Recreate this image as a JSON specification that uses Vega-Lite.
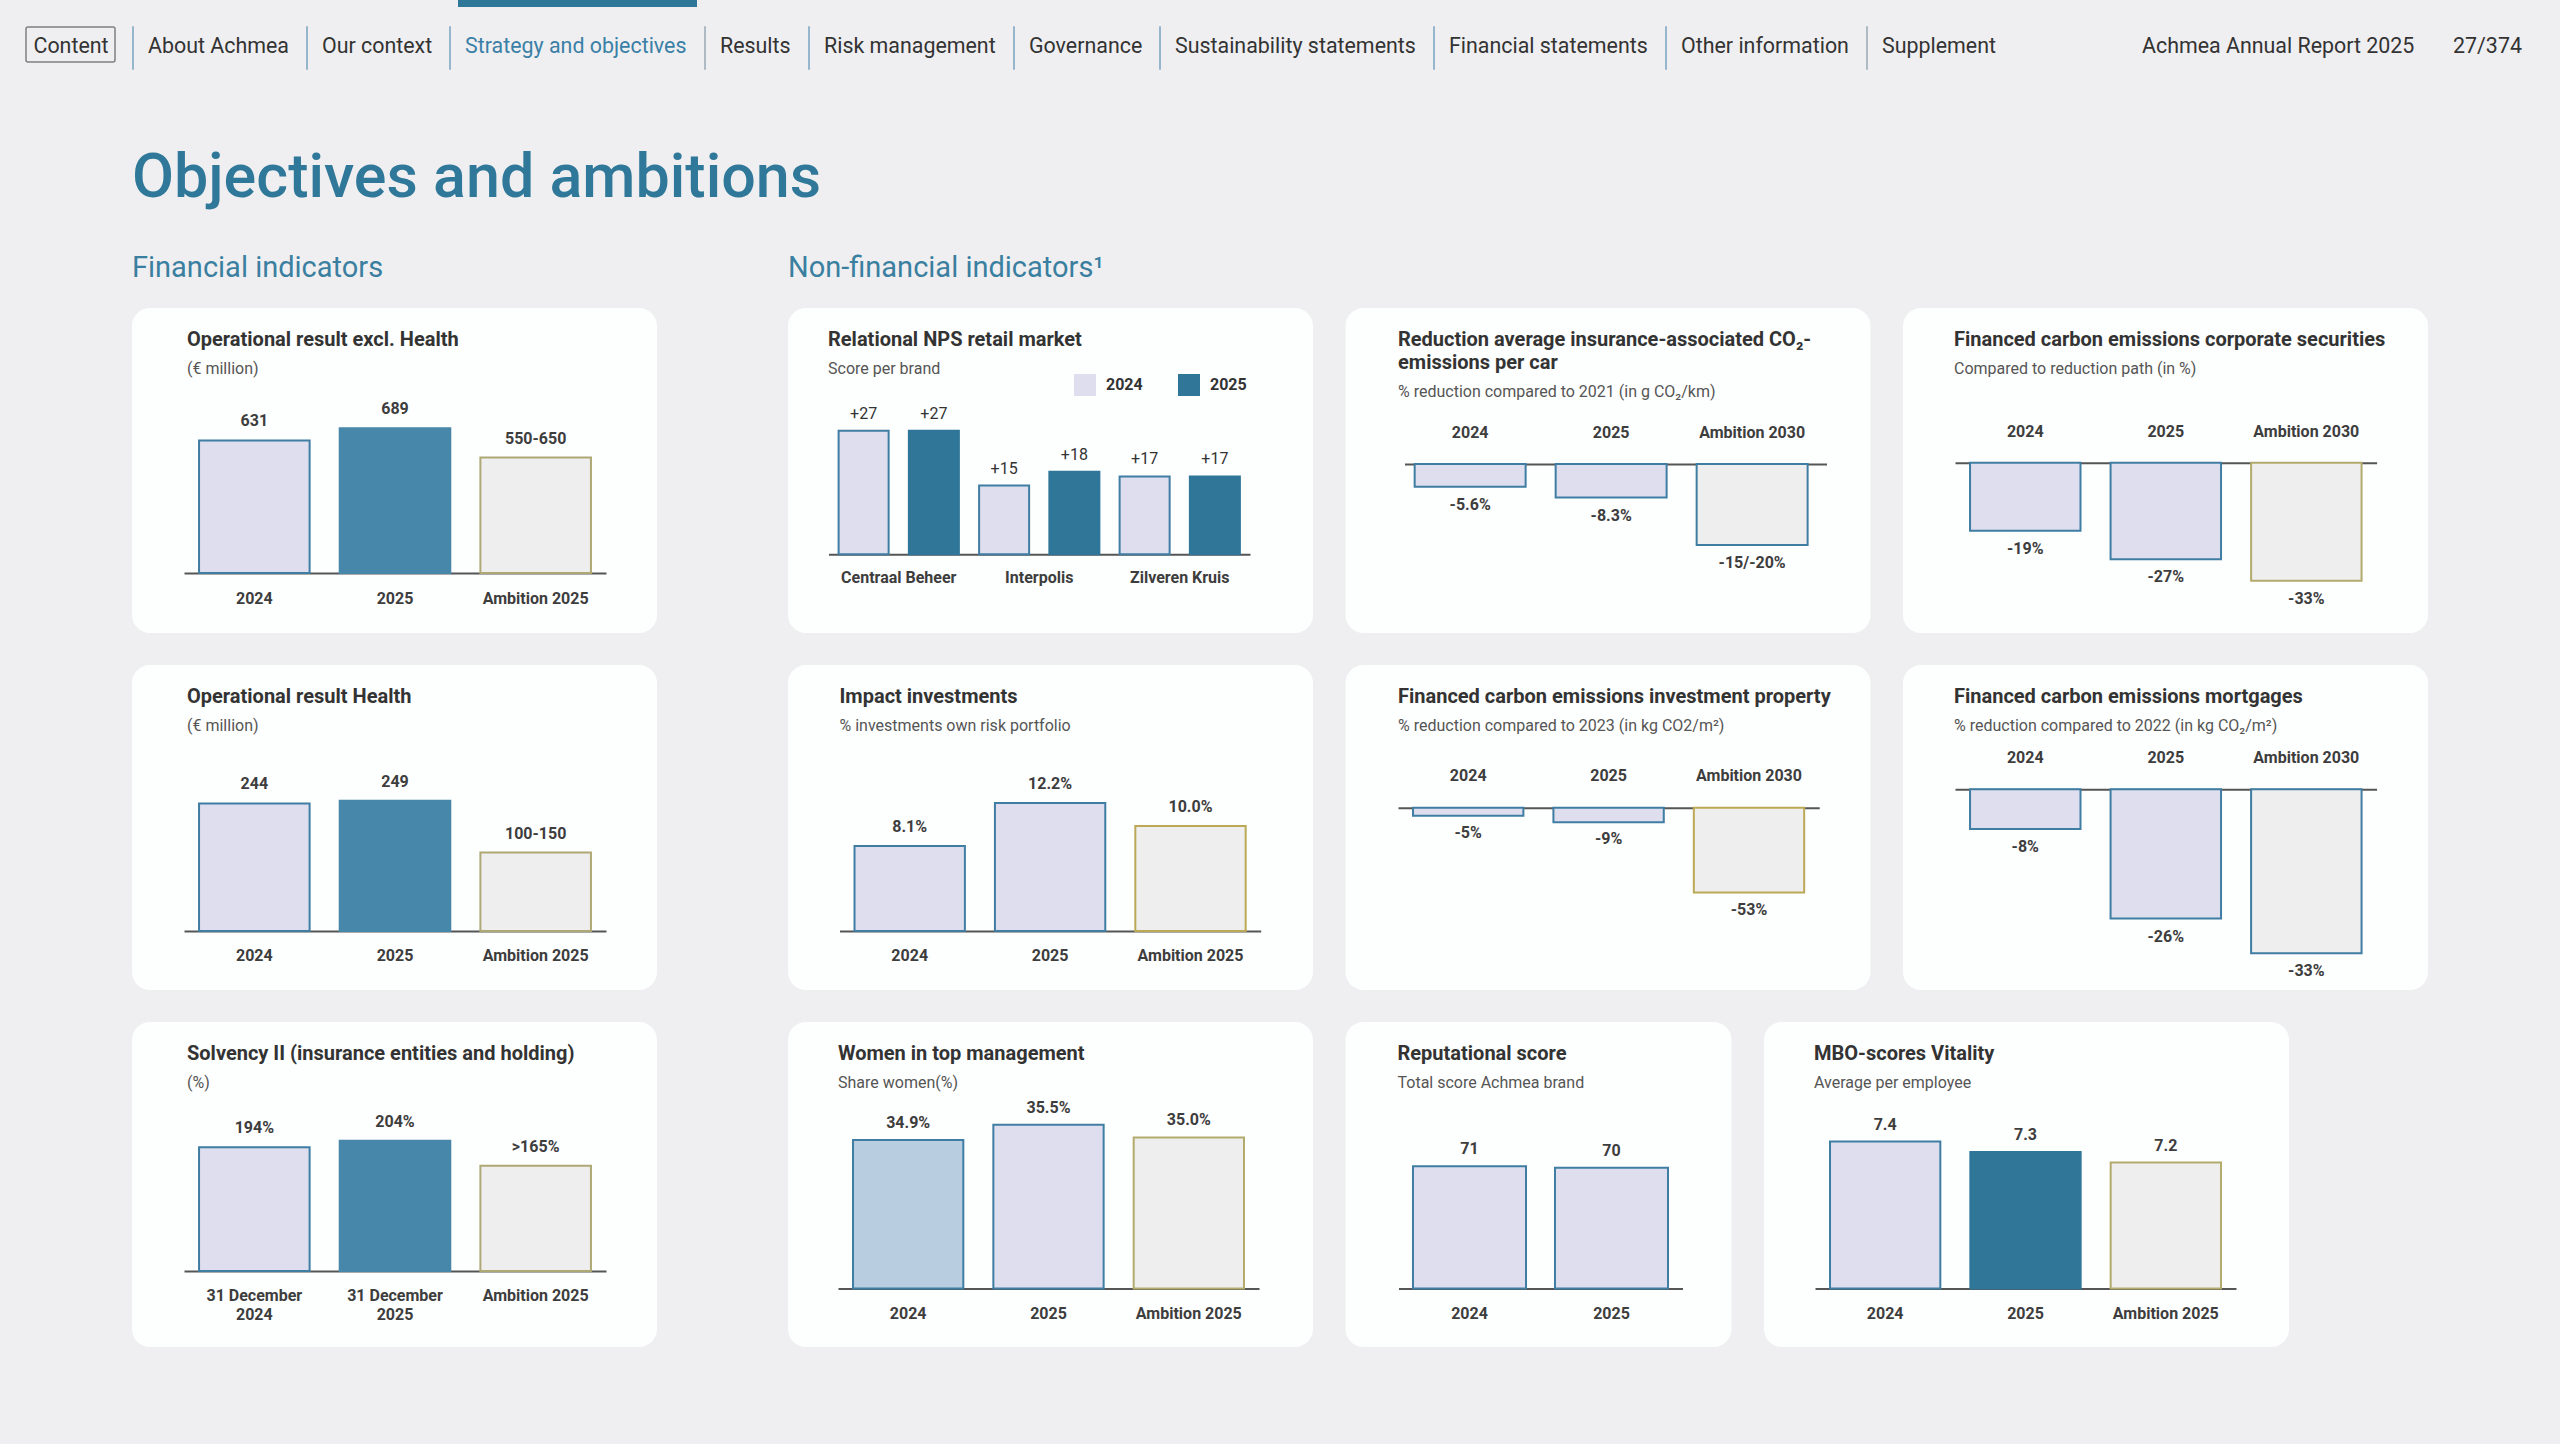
{
  "$schema": "https://vega.github.io/schema/vega-lite/v6.json",
  "background": "#efeff1",
  "padding": 0,
  "config": {
    "font": "Roboto",
    "view": {"stroke": null},
    "title": {"font": "Roboto", "anchor": "start", "frame": "group", "fontSize": 20, "fontWeight": "bold", "color": "#333333", "subtitleFont": "Roboto", "subtitleFontSize": 16, "subtitleColor": "#555555", "subtitlePadding": 11, "lineHeight": 23},
    "axis": {"domainColor": "#555555", "domainWidth": 2, "ticks": false, "tickSize": 0, "grid": false, "labelFont": "Roboto", "labelFontSize": 16, "labelFontWeight": "bold", "labelColor": "#3d3d3d", "labelBaseline": "alphabetic", "labelAngle": 0, "labelOverlap": false, "labelFlush": false, "zindex": 1},
    "text": {"font": "Roboto"},
    "legend": {"labelFont": "Roboto"}
  },
  "vconcat": [
    {
      "vconcat": [
        {
          "hconcat": [
            {"width": 458, "height": 7, "data": {"values": []}, "mark": "point"},
            {"width": 239, "height": 7, "data": {"values": []}, "mark": "point", "view": {"fill": "#2e7799", "stroke": null}}
          ],
          "spacing": 0
        },
        {
          "hconcat": [
            {"width": 9, "height": 42, "data": {"values": []}, "mark": "point"},
            {"width": 89, "height": 35, "data": {"values": []}, "mark": "point", "view": {"stroke": "#808080", "strokeWidth": 1.5, "cornerRadius": 2},
             "title": {"text": "Content", "fontSize": 21.4, "fontWeight": "normal", "color": "#333333", "dx": 7.5, "offset": -30}},
            {"width": 0.01, "height": 42, "data": {"values": []}, "mark": "point", "view": {"stroke": "#78a3bf", "strokeWidth": 1.5},
             "title": {"text": "About Achmea", "fontSize": 21.4, "fontWeight": "normal", "color": "#333333", "dx": 15, "offset": -30}},
            {"width": 0.01, "height": 42, "data": {"values": []}, "mark": "point", "view": {"stroke": "#78a3bf", "strokeWidth": 1.5},
             "title": {"text": "Our context", "fontSize": 21.4, "fontWeight": "normal", "color": "#333333", "dx": 15, "offset": -30}},
            {"width": 0.01, "height": 42, "data": {"values": []}, "mark": "point", "view": {"stroke": "#78a3bf", "strokeWidth": 1.5},
             "title": {"text": "Strategy and objectives", "fontSize": 21.4, "fontWeight": "normal", "color": "#3a80a6", "dx": 15, "offset": -30}},
            {"width": 0.01, "height": 42, "data": {"values": []}, "mark": "point", "view": {"stroke": "#9aa9b2", "strokeWidth": 1.5},
             "title": {"text": "Results", "fontSize": 21.4, "fontWeight": "normal", "color": "#333333", "dx": 15, "offset": -30}},
            {"width": 0.01, "height": 42, "data": {"values": []}, "mark": "point", "view": {"stroke": "#78a3bf", "strokeWidth": 1.5},
             "title": {"text": "Risk management", "fontSize": 21.4, "fontWeight": "normal", "color": "#333333", "dx": 15, "offset": -30}},
            {"width": 0.01, "height": 42, "data": {"values": []}, "mark": "point", "view": {"stroke": "#78a3bf", "strokeWidth": 1.5},
             "title": {"text": "Governance", "fontSize": 21.4, "fontWeight": "normal", "color": "#333333", "dx": 15, "offset": -30}},
            {"width": 0.01, "height": 42, "data": {"values": []}, "mark": "point", "view": {"stroke": "#78a3bf", "strokeWidth": 1.5},
             "title": {"text": "Sustainability statements", "fontSize": 21.4, "fontWeight": "normal", "color": "#333333", "dx": 15, "offset": -30}},
            {"width": 0.01, "height": 42, "data": {"values": []}, "mark": "point", "view": {"stroke": "#78a3bf", "strokeWidth": 1.5},
             "title": {"text": "Financial statements", "fontSize": 21.4, "fontWeight": "normal", "color": "#333333", "dx": 15, "offset": -30}},
            {"width": 0.01, "height": 42, "data": {"values": []}, "mark": "point", "view": {"stroke": "#78a3bf", "strokeWidth": 1.5},
             "title": {"text": "Other information", "fontSize": 21.4, "fontWeight": "normal", "color": "#333333", "dx": 15, "offset": -30}},
            {"width": 0.01, "height": 42, "data": {"values": []}, "mark": "point", "view": {"stroke": "#9aa9b2", "strokeWidth": 1.5},
             "title": {"text": "Supplement", "fontSize": 21.4, "fontWeight": "normal", "color": "#333333", "dx": 15, "offset": -30}},
            {"width": 113, "height": 42, "data": {"values": []}, "mark": "point"},
            {"width": 0.01, "height": 42, "data": {"values": []}, "mark": "point",
             "title": {"text": "Achmea Annual Report 2025", "fontSize": 21.4, "fontWeight": "normal", "color": "#333333", "dx": 0, "offset": -30}},
            {"width": 0.01, "height": 42, "data": {"values": []}, "mark": "point",
             "title": {"text": "27/374", "fontSize": 21.4, "fontWeight": "normal", "color": "#333333", "dx": 22, "offset": -30}}
          ],
          "spacing": 16
        }
      ],
      "spacing": 19
    },
    {
      "hconcat": [
        {"width": 132, "height": 1, "data": {"values": []}, "mark": "point"},
        {
          "title": {"text": "Objectives and ambitions", "fontSize": 61, "fontWeight": 500, "color": "#2f7899", "offset": 44, "anchor": "start", "frame": "bounds"},
          "hconcat": [
            {
              "title": {"text": "Financial indicators", "fontSize": 29, "fontWeight": "normal", "color": "#3a7fa0", "offset": 25, "anchor": "start", "frame": "bounds"},
              "vconcat": [
                {
                  "width": 525, "height": 325,
                  "view": {"fill": "#fdfefe", "stroke": null, "cornerRadius": 18},
                  "title": {"text": "Operational result excl. Health", "subtitle": "(€ million)", "dx": 55, "offset": -69},
                  "data": {"values": [
                    {"period": "2024", "value": 631, "label": "631"},
                    {"period": "2025", "value": 689, "label": "689"},
                    {"period": "Ambition 2025", "value": 550, "label": "550-650"}
                  ]},
                  "encoding": {
                    "x": {"field": "period", "type": "nominal", "sort": null, "title": null,
                          "scale": {"range": [52, 474], "paddingInner": 0.214, "paddingOuter": 0.107},
                          "axis": {"orient": "bottom", "offset": -60, "labelPadding": 30}},
                    "y": {"field": "value", "type": "quantitative", "axis": null, "scale": {"domain": [-285.7, 1261.9], "nice": false}}
                  },
                  "layer": [
                    {"mark": {"type": "bar", "strokeWidth": 2},
                     "encoding": {
                       "fill": {"condition": [{"test": "datum.period === '2025'", "value": "#4787a9"}, {"test": "datum.period === 'Ambition 2025'", "value": "#eeeeee"}], "value": "#dedeee"},
                       "stroke": {"condition": [{"test": "datum.period === '2025'", "value": "#4787a9"}, {"test": "datum.period === 'Ambition 2025'", "value": "#aea874"}], "value": "#3f7da3"}
                     }},
                    {"mark": {"type": "text", "dy": -14, "baseline": "alphabetic", "fontSize": 16, "fontWeight": "bold", "color": "#3d3d3d"},
                     "encoding": {"text": {"field": "label"}}}
                  ]
                },
                {
                  "width": 525, "height": 325,
                  "view": {"fill": "#fdfefe", "stroke": null, "cornerRadius": 18},
                  "title": {"text": "Operational result Health", "subtitle": "(€ million)", "dx": 55, "offset": -69},
                  "data": {"values": [
                    {"period": "2024", "value": 244, "label": "244"},
                    {"period": "2025", "value": 249, "label": "249"},
                    {"period": "Ambition 2025", "value": 150, "label": "100-150"}
                  ]},
                  "encoding": {
                    "x": {"field": "period", "type": "nominal", "sort": null, "title": null,
                          "scale": {"range": [52, 474], "paddingInner": 0.214, "paddingOuter": 0.107},
                          "axis": {"orient": "bottom", "offset": -59, "labelPadding": 29}},
                    "y": {"field": "value", "type": "quantitative", "axis": null, "scale": {"domain": [-112.8, 508.6], "nice": false}}
                  },
                  "layer": [
                    {"mark": {"type": "bar", "strokeWidth": 2},
                     "encoding": {
                       "fill": {"condition": [{"test": "datum.period === '2025'", "value": "#4787a9"}, {"test": "datum.period === 'Ambition 2025'", "value": "#eeeeee"}], "value": "#dedeee"},
                       "stroke": {"condition": [{"test": "datum.period === '2025'", "value": "#4787a9"}, {"test": "datum.period === 'Ambition 2025'", "value": "#aea874"}], "value": "#3f7da3"}
                     }},
                    {"mark": {"type": "text", "dy": -14, "baseline": "alphabetic", "fontSize": 16, "fontWeight": "bold", "color": "#3d3d3d"},
                     "encoding": {"text": {"field": "label"}}}
                  ]
                },
                {
                  "width": 525, "height": 325,
                  "view": {"fill": "#fdfefe", "stroke": null, "cornerRadius": 18},
                  "title": {"text": "Solvency II (insurance entities and holding)", "subtitle": "(%)", "dx": 55, "offset": -69},
                  "data": {"values": [
                    {"period": "31 December 2024", "value": 194, "label": "194%"},
                    {"period": "31 December 2025", "value": 204, "label": "204%"},
                    {"period": "Ambition 2025", "value": 165, "label": ">165%"}
                  ]},
                  "encoding": {
                    "x": {"field": "period", "type": "nominal", "sort": null, "title": null,
                          "scale": {"range": [52, 474], "paddingInner": 0.214, "paddingOuter": 0.107},
                          "axis": {"orient": "bottom", "offset": -76, "labelPadding": 29, "labelLineHeight": 19,
                                   "labelExpr": "indexof(datum.label, '31 December') === 0 ? ['31 December', substring(datum.label, 12)] : datum.label"}},
                    "y": {"field": "value", "type": "quantitative", "axis": null, "scale": {"domain": [-119.1, 390.3], "nice": false}}
                  },
                  "layer": [
                    {"mark": {"type": "bar", "strokeWidth": 2},
                     "encoding": {
                       "fill": {"condition": [{"test": "datum.period === '31 December 2025'", "value": "#4787a9"}, {"test": "datum.period === 'Ambition 2025'", "value": "#eeeeee"}], "value": "#dedeee"},
                       "stroke": {"condition": [{"test": "datum.period === '31 December 2025'", "value": "#4787a9"}, {"test": "datum.period === 'Ambition 2025'", "value": "#aea874"}], "value": "#3f7da3"}
                     }},
                    {"mark": {"type": "text", "dy": -14, "baseline": "alphabetic", "fontSize": 16, "fontWeight": "bold", "color": "#3d3d3d"},
                     "encoding": {"text": {"field": "label"}}}
                  ]
                }
              ],
              "spacing": 32
            },
            {
              "title": {"text": "Non-financial indicators¹", "fontSize": 29, "fontWeight": "normal", "color": "#3a7fa0", "offset": 25, "anchor": "start", "frame": "bounds"},
              "vconcat": [
                {
                  "hconcat": [
                    {
                      "width": 525, "height": 325,
                      "view": {"fill": "#fdfefe", "stroke": null, "cornerRadius": 18},
                      "title": {"text": "Relational NPS retail market", "subtitle": "Score per brand", "dx": 40, "offset": -69},
                      "data": {"values": [
                        {"brand": "Centraal Beheer", "year": "2024", "value": 27, "label": "+27"},
                        {"brand": "Centraal Beheer", "year": "2025", "value": 27, "label": "+27"},
                        {"brand": "Interpolis", "year": "2024", "value": 15, "label": "+15"},
                        {"brand": "Interpolis", "year": "2025", "value": 18, "label": "+18"},
                        {"brand": "Zilveren Kruis", "year": "2024", "value": 17, "label": "+17"},
                        {"brand": "Zilveren Kruis", "year": "2025", "value": 17, "label": "+17"}
                      ]},
                      "encoding": {
                        "x": {"field": "brand", "type": "nominal", "sort": null, "title": null,
                              "scale": {"range": [40.5, 462], "paddingInner": 0, "paddingOuter": 0},
                              "axis": {"orient": "bottom", "offset": -78.7, "labelPadding": 28.4}},
                        "xOffset": {"field": "year", "type": "nominal", "sort": null, "scale": {"paddingInner": 0.288, "paddingOuter": 0.144}},
                        "y": {"field": "value", "type": "quantitative", "axis": null, "scale": {"domain": [-17.18, 53.78], "nice": false}}
                      },
                      "layer": [
                        {"mark": {"type": "bar", "strokeWidth": 2},
                         "encoding": {
                           "fill": {"field": "year", "type": "nominal", "scale": {"domain": ["2024", "2025"], "range": ["#dedeee", "#2f7699"]},
                                    "legend": {"title": null, "orient": "top-right", "offset": 66, "direction": "horizontal", "symbolType": "square", "symbolSize": 484, "symbolStrokeWidth": 0, "labelFontSize": 16, "labelFontWeight": "bold", "labelColor": "#333333", "labelOffset": 10, "columnPadding": 35, "padding": 0}},
                           "stroke": {"condition": {"test": "datum.year === '2025'", "value": "#2f7699"}, "value": "#3f7da3"}
                         }},
                        {"mark": {"type": "text", "dy": -12, "baseline": "alphabetic", "fontSize": 16, "fontWeight": "normal", "color": "#333333"},
                         "encoding": {"text": {"field": "label"}}}
                      ]
                    },
                    {
                      "width": 525, "height": 325,
                      "view": {"fill": "#fdfefe", "stroke": null, "cornerRadius": 18},
                      "title": {"text": ["Reduction average insurance-associated CO₂-", "emissions per car"], "subtitle": "% reduction compared to 2021 (in g CO₂/km)", "dx": 52.5, "offset": -92},
                      "data": {"values": [
                        {"period": "2024", "value": -5.6, "label": "-5.6%"},
                        {"period": "2025", "value": -8.3, "label": "-8.3%"},
                        {"period": "Ambition 2030", "value": -20, "label": "-15/-20%"}
                      ]},
                      "encoding": {
                        "x": {"field": "period", "type": "nominal", "sort": null, "title": null,
                              "scale": {"range": [59, 481], "paddingInner": 0.213, "paddingOuter": 0.103, "align": 0.35},
                              "axis": {"orient": "top", "offset": -156, "labelPadding": 26.3}},
                        "y": {"field": "value", "type": "quantitative", "axis": null, "scale": {"domain": [-41.73, 38.52], "nice": false}}
                      },
                      "layer": [
                        {"mark": {"type": "bar", "strokeWidth": 2},
                         "encoding": {
                           "fill": {"condition": {"test": "datum.period === 'Ambition 2030'", "value": "#eeeeee"}, "value": "#dedeee"},
                           "stroke": {"value": "#3f7da3"}
                         }},
                        {"mark": {"type": "text", "dy": 23, "baseline": "alphabetic", "fontSize": 16, "fontWeight": "bold", "color": "#3d3d3d"},
                         "encoding": {"text": {"field": "label"}}}
                      ]
                    },
                    {
                      "width": 525, "height": 325,
                      "view": {"fill": "#fdfefe", "stroke": null, "cornerRadius": 18},
                      "title": {"text": "Financed carbon emissions corporate securities", "subtitle": "Compared to reduction path (in %)", "dx": 51, "offset": -69},
                      "data": {"values": [
                        {"period": "2024", "value": -19, "label": "-19%"},
                        {"period": "2025", "value": -27, "label": "-27%"},
                        {"period": "Ambition 2030", "value": -33, "label": "-33%"}
                      ]},
                      "encoding": {
                        "x": {"field": "period", "type": "nominal", "sort": null, "title": null,
                              "scale": {"range": [52, 473.6], "paddingInner": 0.214, "paddingOuter": 0.107},
                              "axis": {"orient": "top", "offset": -154.7, "labelPadding": 26.7}},
                        "y": {"field": "value", "type": "quantitative", "axis": null, "scale": {"domain": [-47.57, 43.21], "nice": false}}
                      },
                      "layer": [
                        {"mark": {"type": "bar", "strokeWidth": 2},
                         "encoding": {
                           "fill": {"condition": {"test": "datum.period === 'Ambition 2030'", "value": "#eeeeee"}, "value": "#dedeee"},
                           "stroke": {"condition": {"test": "datum.period === 'Ambition 2030'", "value": "#b3ab6c"}, "value": "#3f7da3"}
                         }},
                        {"mark": {"type": "text", "dy": 23, "baseline": "alphabetic", "fontSize": 16, "fontWeight": "bold", "color": "#3d3d3d"},
                         "encoding": {"text": {"field": "label"}}}
                      ]
                    }
                  ],
                  "spacing": 32.5,
                  "resolve": {"scale": {"fill": "independent", "stroke": "independent"}, "legend": {"fill": "independent"}}
                },
                {
                  "hconcat": [
                    {
                      "width": 525, "height": 325,
                      "view": {"fill": "#fdfefe", "stroke": null, "cornerRadius": 18},
                      "title": {"text": "Impact investments", "subtitle": "% investments own risk portfolio", "dx": 51.5, "offset": -69},
                      "data": {"values": [
                        {"period": "2024", "value": 8.1, "label": "8.1%"},
                        {"period": "2025", "value": 12.2, "label": "12.2%"},
                        {"period": "Ambition 2025", "value": 10.0, "label": "10.0%"}
                      ]},
                      "encoding": {
                        "x": {"field": "period", "type": "nominal", "sort": null, "title": null,
                              "scale": {"range": [51.5, 472.7], "paddingInner": 0.214, "paddingOuter": 0.107},
                              "axis": {"orient": "bottom", "offset": -59, "labelPadding": 29}},
                        "y": {"field": "value", "type": "quantitative", "axis": null, "scale": {"domain": [-5.62, 25.33], "nice": false}}
                      },
                      "layer": [
                        {"mark": {"type": "bar", "strokeWidth": 2},
                         "encoding": {
                           "fill": {"condition": {"test": "datum.period === 'Ambition 2025'", "value": "#eeeeee"}, "value": "#dedeee"},
                           "stroke": {"condition": {"test": "datum.period === 'Ambition 2025'", "value": "#bba955"}, "value": "#3f7da3"}
                         }},
                        {"mark": {"type": "text", "dy": -13.5, "baseline": "alphabetic", "fontSize": 16, "fontWeight": "bold", "color": "#3d3d3d"},
                         "encoding": {"text": {"field": "label"}}}
                      ]
                    },
                    {
                      "width": 525, "height": 325,
                      "view": {"fill": "#fdfefe", "stroke": null, "cornerRadius": 18},
                      "title": {"text": "Financed carbon emissions investment property", "subtitle": "% reduction compared to 2023 (in kg CO2/m²)", "dx": 52.5, "offset": -69},
                      "data": {"values": [
                        {"period": "2024", "value": -5, "label": "-5%"},
                        {"period": "2025", "value": -9, "label": "-9%"},
                        {"period": "Ambition 2030", "value": -53, "label": "-53%"}
                      ]},
                      "encoding": {
                        "x": {"field": "period", "type": "nominal", "sort": null, "title": null,
                              "scale": {"range": [52.5, 473.7], "paddingInner": 0.214, "paddingOuter": 0.107},
                              "axis": {"orient": "top", "offset": -142.7, "labelPadding": 27}},
                        "y": {"field": "value", "type": "quantitative", "axis": null, "scale": {"domain": [-113.9, 89.19], "nice": false}}
                      },
                      "layer": [
                        {"mark": {"type": "bar", "strokeWidth": 2},
                         "encoding": {
                           "fill": {"condition": {"test": "datum.period === 'Ambition 2030'", "value": "#eeeeee"}, "value": "#dedeee"},
                           "stroke": {"condition": {"test": "datum.period === 'Ambition 2030'", "value": "#bba955"}, "value": "#3f7da3"}
                         }},
                        {"mark": {"type": "text", "dy": 22, "baseline": "alphabetic", "fontSize": 16, "fontWeight": "bold", "color": "#3d3d3d"},
                         "encoding": {"text": {"field": "label"}}}
                      ]
                    },
                    {
                      "width": 525, "height": 325,
                      "view": {"fill": "#fdfefe", "stroke": null, "cornerRadius": 18},
                      "title": {"text": "Financed carbon emissions mortgages", "subtitle": "% reduction compared to 2022 (in kg CO₂/m²)", "dx": 51, "offset": -69},
                      "data": {"values": [
                        {"period": "2024", "value": -8, "label": "-8%"},
                        {"period": "2025", "value": -26, "label": "-26%"},
                        {"period": "Ambition 2030", "value": -33, "label": "-33%"}
                      ]},
                      "encoding": {
                        "x": {"field": "period", "type": "nominal", "sort": null, "title": null,
                              "scale": {"range": [52, 473.6], "paddingInner": 0.214, "paddingOuter": 0.107},
                              "axis": {"orient": "top", "offset": -124.3, "labelPadding": 26.6}},
                        "y": {"field": "value", "type": "quantitative", "axis": null, "scale": {"domain": [-40.38, 25.01], "nice": false}}
                      },
                      "layer": [
                        {"mark": {"type": "bar", "strokeWidth": 2},
                         "encoding": {
                           "fill": {"condition": {"test": "datum.period === 'Ambition 2030'", "value": "#eeeeee"}, "value": "#dedeee"},
                           "stroke": {"value": "#3f7da3"}
                         }},
                        {"mark": {"type": "text", "dy": 23, "baseline": "alphabetic", "fontSize": 16, "fontWeight": "bold", "color": "#3d3d3d"},
                         "encoding": {"text": {"field": "label"}}}
                      ]
                    }
                  ],
                  "spacing": 32.5
                },
                {
                  "hconcat": [
                    {
                      "width": 525, "height": 325,
                      "view": {"fill": "#fdfefe", "stroke": null, "cornerRadius": 18},
                      "title": {"text": "Women in top management", "subtitle": "Share women(%)", "dx": 50, "offset": -69},
                      "data": {"values": [
                        {"period": "2024", "value": 34.9, "label": "34.9%"},
                        {"period": "2025", "value": 35.5, "label": "35.5%"},
                        {"period": "Ambition 2025", "value": 35.0, "label": "35.0%"}
                      ]},
                      "encoding": {
                        "x": {"field": "period", "type": "nominal", "sort": null, "title": null,
                              "scale": {"range": [50, 471], "paddingInner": 0.214, "paddingOuter": 0.107},
                              "axis": {"orient": "bottom", "offset": -58.4, "labelPadding": 29.4}},
                        "y": {"field": "value", "type": "quantitative", "axis": null, "scale": {"domain": [26.68, 39.58], "nice": false, "zero": false}}
                      },
                      "layer": [
                        {"mark": {"type": "bar", "strokeWidth": 2},
                         "encoding": {
                           "y2": {"datum": 29},
                           "fill": {"condition": [{"test": "datum.period === '2024'", "value": "#b9cde1"}, {"test": "datum.period === 'Ambition 2025'", "value": "#eeeeee"}], "value": "#dedeee"},
                           "stroke": {"condition": {"test": "datum.period === 'Ambition 2025'", "value": "#b3ab6c"}, "value": "#3f7da3"}
                         }},
                        {"mark": {"type": "text", "dy": -12, "baseline": "alphabetic", "fontSize": 16, "fontWeight": "bold", "color": "#3d3d3d"},
                         "encoding": {"text": {"field": "label"}}}
                      ]
                    },
                    {
                      "width": 386, "height": 325,
                      "view": {"fill": "#fdfefe", "stroke": null, "cornerRadius": 18},
                      "title": {"text": "Reputational score", "subtitle": "Total score Achmea brand", "dx": 52, "offset": -69},
                      "data": {"values": [
                        {"period": "2024", "value": 71, "label": "71"},
                        {"period": "2025", "value": 70, "label": "70"}
                      ]},
                      "encoding": {
                        "x": {"field": "period", "type": "nominal", "sort": null, "title": null,
                              "scale": {"range": [53, 337], "paddingInner": 0.204, "paddingOuter": 0.102},
                              "axis": {"orient": "bottom", "offset": -58.4, "labelPadding": 29.4}},
                        "y": {"field": "value", "type": "quantitative", "axis": null, "scale": {"domain": [-33.9, 154.6], "nice": false}}
                      },
                      "layer": [
                        {"mark": {"type": "bar", "strokeWidth": 2, "fill": "#dedeee", "stroke": "#3f7da3"}},
                        {"mark": {"type": "text", "dy": -12, "baseline": "alphabetic", "fontSize": 16, "fontWeight": "bold", "color": "#3d3d3d"},
                         "encoding": {"text": {"field": "label"}}}
                      ]
                    },
                    {
                      "width": 525, "height": 325,
                      "view": {"fill": "#fdfefe", "stroke": null, "cornerRadius": 18},
                      "title": {"text": "MBO-scores Vitality", "subtitle": "Average per employee", "dx": 50, "offset": -69},
                      "data": {"values": [
                        {"period": "2024", "value": 7.4, "label": "7.4"},
                        {"period": "2025", "value": 7.3, "label": "7.3"},
                        {"period": "Ambition 2025", "value": 7.2, "label": "7.2"}
                      ]},
                      "encoding": {
                        "x": {"field": "period", "type": "nominal", "sort": null, "title": null,
                              "scale": {"range": [51, 472], "paddingInner": 0.214, "paddingOuter": 0.107},
                              "axis": {"orient": "bottom", "offset": -58.4, "labelPadding": 29.4}},
                        "y": {"field": "value", "type": "quantitative", "axis": null, "scale": {"domain": [5.444, 8.539], "nice": false, "zero": false}}
                      },
                      "layer": [
                        {"mark": {"type": "bar", "strokeWidth": 2},
                         "encoding": {
                           "y2": {"datum": 6},
                           "fill": {"condition": [{"test": "datum.period === '2025'", "value": "#2f7699"}, {"test": "datum.period === 'Ambition 2025'", "value": "#eeeeee"}], "value": "#dedeee"},
                           "stroke": {"condition": [{"test": "datum.period === '2025'", "value": "#2f7699"}, {"test": "datum.period === 'Ambition 2025'", "value": "#b3ab6c"}], "value": "#3f7da3"}
                         }},
                        {"mark": {"type": "text", "dy": -12, "baseline": "alphabetic", "fontSize": 16, "fontWeight": "bold", "color": "#3d3d3d"},
                         "encoding": {"text": {"field": "label"}}}
                      ]
                    }
                  ],
                  "spacing": 32.5
                }
              ],
              "spacing": 32,
              "resolve": {"scale": {"fill": "independent", "stroke": "independent"}, "legend": {"fill": "independent"}}
            }
          ],
          "spacing": 131,
          "resolve": {"scale": {"fill": "independent", "stroke": "independent"}, "legend": {"fill": "independent"}}
        }
      ],
      "spacing": 0,
      "resolve": {"scale": {"fill": "independent", "stroke": "independent"}, "legend": {"fill": "independent"}}
    },
    {"width": 2560, "height": 19, "data": {"values": []}, "mark": "point"}
  ],
  "spacing": 78,
  "resolve": {"scale": {"fill": "independent", "stroke": "independent"}, "legend": {"fill": "independent"}}
}
